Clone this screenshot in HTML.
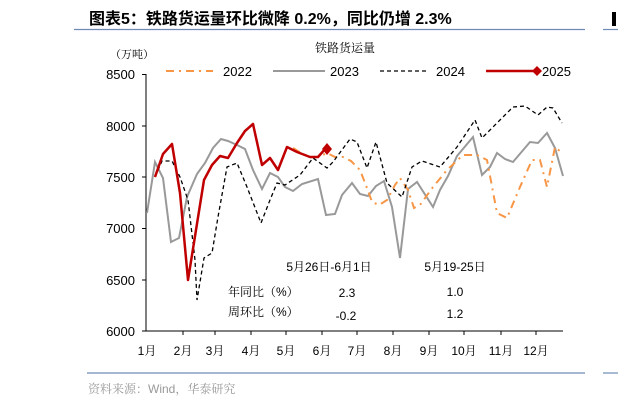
<!DOCTYPE html>
<html><head><meta charset="utf-8"><style>
html,body{margin:0;padding:0;background:#fff;}
svg{display:block;}
text{font-family:"Liberation Sans","Noto Serif CJK SC",serif;}
.t{font-family:"Liberation Sans","Noto Sans CJK SC",sans-serif;}
</style></head><body>
<svg width="618" height="403" viewBox="0 0 618 403" xmlns="http://www.w3.org/2000/svg">
<text class="t" x="89" y="24" font-size="16" font-weight="bold" fill="#000">图表5：铁路货运量环比微降 0.2%，同比仍增 2.3%</text>
<line x1="74" y1="29.5" x2="585" y2="29.5" stroke="#6f8bb5" stroke-width="1.2"/>
<line x1="603" y1="29.5" x2="618" y2="29.5" stroke="#6f8bb5" stroke-width="1.2"/>
<rect x="612" y="12" width="4" height="14" fill="#000"/>
<text x="345" y="52" font-size="12" text-anchor="middle" fill="#000">铁路货运量</text>
<text x="132" y="58" font-size="11" text-anchor="middle" fill="#000">（万吨）</text>
<!-- legend -->
<line x1="166" y1="71" x2="213" y2="71" stroke="#f79646" stroke-width="2" stroke-dasharray="8,5,2,5"/>
<text x="223" y="76" font-size="13">2022</text>
<line x1="273" y1="71" x2="325" y2="71" stroke="#999" stroke-width="2"/>
<text x="330" y="76" font-size="13">2023</text>
<line x1="380" y1="71" x2="427" y2="71" stroke="#000" stroke-width="1.3" stroke-dasharray="4,3"/>
<text x="436" y="76" font-size="13">2024</text>
<line x1="486" y1="71" x2="535" y2="71" stroke="#c00000" stroke-width="2.5"/>
<path d="M537 66 L542 71 L537 76 L532 71Z" fill="#c00000"/>
<text x="542" y="76" font-size="13">2025</text>
<!-- axes -->
<line x1="146" y1="74" x2="146" y2="331" stroke="#000" stroke-width="1"/>
<line x1="146" y1="331" x2="563" y2="331" stroke="#000" stroke-width="1"/>
<g stroke="#000">
<line x1="142" y1="74.5" x2="146" y2="74.5"/><line x1="142" y1="126" x2="146" y2="126"/>
<line x1="142" y1="177" x2="146" y2="177"/><line x1="142" y1="228.5" x2="146" y2="228.5"/>
<line x1="142" y1="280" x2="146" y2="280"/><line x1="142" y1="331" x2="146" y2="331"/>
<line x1="183" y1="331" x2="183" y2="335"/><line x1="215" y1="331" x2="215" y2="335"/>
<line x1="251" y1="331" x2="251" y2="335"/><line x1="286" y1="331" x2="286" y2="335"/>
<line x1="322" y1="331" x2="322" y2="335"/><line x1="357" y1="331" x2="357" y2="335"/>
<line x1="393" y1="331" x2="393" y2="335"/><line x1="429" y1="331" x2="429" y2="335"/>
<line x1="464" y1="331" x2="464" y2="335"/><line x1="501" y1="331" x2="501" y2="335"/>
<line x1="536" y1="331" x2="536" y2="335"/>
</g>
<g font-size="13" text-anchor="end">
<text x="135" y="79">8500</text><text x="135" y="131">8000</text><text x="135" y="182">7500</text>
<text x="135" y="233">7000</text><text x="135" y="285">6500</text><text x="135" y="336">6000</text>
</g>
<g font-size="12" text-anchor="middle">
<text x="147" y="355">1月</text><text x="183" y="355">2月</text><text x="215" y="355">3月</text>
<text x="251" y="355">4月</text><text x="286" y="355">5月</text><text x="322" y="355">6月</text>
<text x="357" y="355">7月</text><text x="393" y="355">8月</text><text x="429" y="355">9月</text>
<text x="464" y="355">10月</text><text x="501" y="355">11月</text><text x="536" y="355">12月</text>
</g>
<!-- series -->
<polyline fill="none" stroke="#999" stroke-width="2" points="147,213 155,162 163,178 171,242 179,238 187,197 197,174 205,163 213,148 221,139 228,141 237,145 245,149 253,170 262,189 270,173 278,177 285,187 293,191 302,184 318,179 326,215 335,214 342,195 352,183 360,194 368,196 376,186 384,181 392,207 400,258 408,189 417,182 433,207 440,190 448,176 457,156 473,137 482,175 490,167 497,153 505,159 513,162 530,142 538,143 547,133 555,148 563,176"/>
<polyline fill="none" stroke="#f79646" stroke-width="2" stroke-dasharray="8,5,2,5" points="293,148 301,153 309,157 318,157 327,153 335,157 343,157 351,161 360,170 367,188 372,202 379,205 387,200 395,185 400,178 408,190 414,208 420,205 433,187 447,170 463,155 477,155 487,160 497,213 507,218 520,187 532,160 540,160 547,187 555,147 562,153"/>
<polyline fill="none" stroke="#000" stroke-width="1.3" stroke-dasharray="4,3" points="155,177 162,161 172,161 180,177 188,200 195,260 197,300 204,258 212,253 218,217 227,167 237,163 247,187 261,223 270,200 277,183 285,185 300,175 313,158 327,168 333,162 350,139 357,142 367,168 376,142 387,183 402,197 412,167 422,161 440,167 457,147 475,120 482,138 497,123 513,107 525,106 538,115 547,107 553,108 562,123"/>
<polyline fill="none" stroke="#c00000" stroke-width="2.5" stroke-linejoin="round" points="155,177 163,154 172,144 180,193 188,280 204,180 212,165 220,156 228,158 237,143 245,131 253,124 262,165 270,158 278,170 287,147 297,152 310,157 318,157 326,148"/>
<path d="M327 143 L332 149 L327 155 L322 149Z" fill="#c00000"/>
<!-- table -->
<g font-size="12" fill="#000">
<text x="329" y="271" text-anchor="middle">5月26日-6月1日</text>
<text x="455" y="271" text-anchor="middle">5月19-25日</text>
<text x="228" y="296">年同比（%）</text>
<text x="347" y="297" text-anchor="middle">2.3</text>
<text x="455" y="296" text-anchor="middle">1.0</text>
<text x="228" y="316">周环比（%）</text>
<text x="346" y="320" text-anchor="middle">-0.2</text>
<text x="455" y="318" text-anchor="middle">1.2</text>
</g>
<line x1="87" y1="373" x2="585" y2="373" stroke="#6f8bb5" stroke-width="1.2"/>
<line x1="603" y1="373" x2="618" y2="373" stroke="#6f8bb5" stroke-width="1.2"/>
<text x="88" y="393" font-size="12" fill="#999">资料来源：Wind，华泰研究</text>
</svg>
</body></html>
